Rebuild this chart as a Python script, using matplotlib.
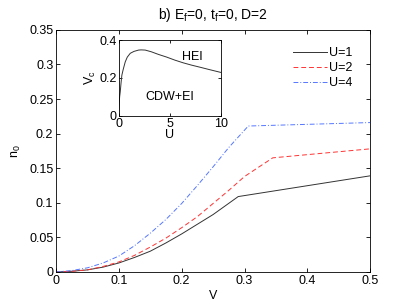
import matplotlib
matplotlib.use("Agg")
import matplotlib.pyplot as plt

plt.rcParams['font.family'] = ['Liberation Sans', 'DejaVu Sans']
plt.rcParams['mathtext.fontset'] = 'custom'
plt.rcParams['mathtext.rm'] = 'Liberation Sans'
plt.rcParams['mathtext.it'] = 'Liberation Sans'

# Main panel data
v_u1 = [0, 0.025, 0.05, 0.075, 0.1, 0.125, 0.15, 0.175, 0.2, 0.225, 0.25, 0.27, 0.29, 0.5]
n_u1 = [0, 0.001, 0.003, 0.007, 0.013, 0.021, 0.030, 0.042, 0.055, 0.069, 0.083, 0.096, 0.109, 0.139]
v_u2 = [0, 0.025, 0.05, 0.075, 0.1, 0.125, 0.15, 0.175, 0.2, 0.225, 0.25, 0.275, 0.3, 0.32, 0.345, 0.5]
n_u2 = [0, 0.001, 0.003, 0.008, 0.0145, 0.024, 0.036, 0.049, 0.064, 0.080, 0.099, 0.118, 0.138, 0.150, 0.165, 0.178]
v_u4 = [0, 0.025, 0.05, 0.075, 0.1, 0.125, 0.15, 0.175, 0.2, 0.225, 0.25, 0.275, 0.306, 0.5]
n_u4 = [0, 0.002, 0.006, 0.013, 0.023, 0.038, 0.056, 0.076, 0.099, 0.125, 0.152, 0.180, 0.211, 0.216]

# Inset data
u_in = [0, 0.02, 0.05, 0.1, 0.16, 0.25, 0.32, 0.45, 0.65, 0.85, 1.14, 1.5, 1.95, 2.2, 2.6,
        3.2, 3.9, 4.7, 5.5, 6.3, 7.1, 8.0, 8.8, 9.4, 10]
vc_in = [0, 0.03, 0.06, 0.10, 0.127, 0.18, 0.215, 0.245, 0.285, 0.31, 0.33, 0.34, 0.347, 0.348, 0.347,
         0.338, 0.324, 0.31, 0.294, 0.28, 0.268, 0.256, 0.245, 0.237, 0.229]

x_ticks = [0, 0.1, 0.2, 0.3, 0.4, 0.5]
y_ticks = [0, 0.05, 0.1, 0.15, 0.2, 0.25, 0.3, 0.35]
x_ticklabels = ['0', '0.1', '0.2', '0.3', '0.4', '0.5']
y_ticklabels = ['0', '0.05', '0.1', '0.15', '0.2', '0.25', '0.3', '0.35']

fs = 9

fig = plt.figure(figsize=(4.09, 3.08), dpi=100)
ax = fig.add_axes([0.137, 0.117, 0.768, 0.786])
ax.plot(v_u1, n_u1, color='#333333', lw=0.7, label='U=1')
ax.plot(v_u2, n_u2, color='#ff3333', lw=0.7, ls=(0, (5, 3)), label='U=2')
ax.plot(v_u4, n_u4, color='#5577ff', lw=0.7, ls=(0, (5, 2, 1, 2)), label='U=4')
ax.set_xlim(0, 0.5)
ax.set_ylim(0, 0.35)
ax.set_xticks(x_ticks)
ax.set_xticklabels(x_ticklabels)
ax.set_yticks(y_ticks)
ax.set_yticklabels(y_ticklabels)
ax.tick_params(direction='in', top=True, right=True, labelsize=fs, length=3, width=0.6, pad=2)
for s in ax.spines.values():
    s.set_linewidth(0.6)
ax.set_xlabel('V', fontsize=fs, labelpad=2)
ax.set_ylabel('n$_0$', fontsize=fs, labelpad=4)
ax.set_title('b) E$_\\mathrm{f}$=0, t$_\\mathrm{f}$=0, D=2', fontsize=10, pad=8)
ax.legend(loc='upper right', frameon=False, fontsize=fs, handlelength=2.7,
          handletextpad=0.2, labelspacing=0.25, bbox_to_anchor=(0.98, 0.975))

axi = fig.add_axes([0.29, 0.624, 0.25, 0.246])
axi.plot(u_in, vc_in, color='#333333', lw=0.7)
axi.set_xlim(0, 10)
axi.set_ylim(0, 0.4)
axi.set_xticks([0, 5, 10])
axi.set_yticks([0, 0.2, 0.4])
axi.set_yticklabels(['0', '0.2', '0.4'])
axi.tick_params(direction='in', top=True, right=True, labelsize=fs, length=2.5, width=0.6, pad=1.5)
for s in axi.spines.values():
    s.set_linewidth(0.6)
axi.set_xlabel('U', fontsize=fs, labelpad=-1)
axi.set_ylabel('V$_\\mathrm{c}$', fontsize=fs, labelpad=1)
axi.text(7.2, 0.31, 'HEI', fontsize=fs, ha='center', va='center')
axi.text(5.0, 0.10, 'CDW+EI', fontsize=fs, ha='center', va='center')

fig.savefig('out.png', dpi=100)
